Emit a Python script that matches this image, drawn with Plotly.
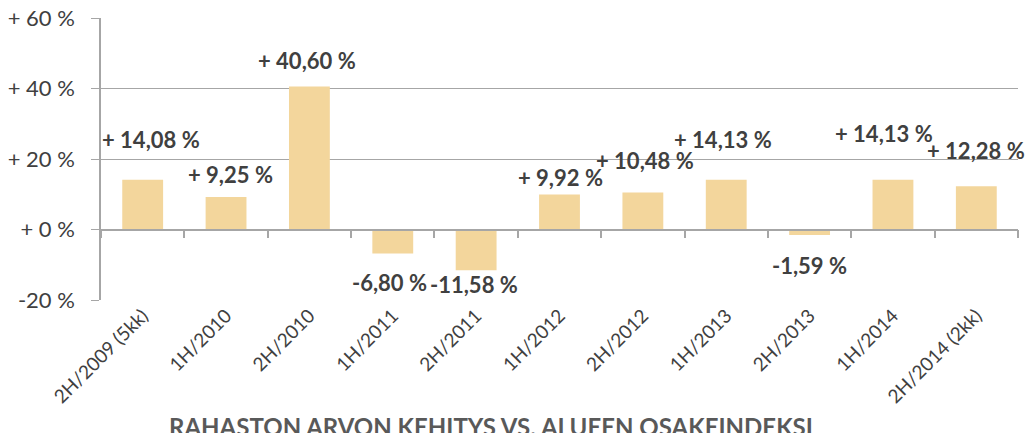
import plotly.graph_objects as go

categories = ["2H/2009 (5kk)", "1H/2010", "2H/2010", "1H/2011", "2H/2011", "1H/2012",
              "2H/2012", "1H/2013", "2H/2013", "1H/2014", "2H/2014 (2kk)"]
values = [14.08, 9.25, 40.60, -6.80, -11.58, 9.92, 10.48, 14.13, -1.59, 14.13, 12.28]
label_texts = ["+ 14,08 %", "+ 9,25 %", "+ 40,60 %", "-6,80 %", "-11,58 %", "+ 9,92 %",
               "+ 10,48 %", "+ 14,13 %", "-1,59 %", "+ 14,13 %", "+ 12,28 %"]
y_tickvals = [-20, 0, 20, 40, 60]
y_ticktext = ["-20 %", "+ 0 %", "+ 20 %", "+ 40 %", "+ 60 %"]
title_text = "RAHASTON ARVON KEHITYS VS. ALUEEN OSAKEINDEKSI"

# label pixel offsets (manual placement as in the original)
label_dx = [8, 4, -2, -3, -2, 1, 2, -3, 0, -9, 0]
label_dy = [40, 22, 26, -29, -14, 17, 32, 40, -30, 46, 36]

BAR = "#F3D69C"
GRID = "#A6A6A6"
TXT = "#404040"
FONT = "Lato"

fig = go.Figure()
fig.add_trace(go.Bar(x=categories, y=values, marker=dict(color=BAR, line=dict(width=0)),
                     hoverinfo="skip"))
# helper invisible trace for the category axis drawn at zero
fig.add_trace(go.Scatter(x=categories, y=[0] * len(categories), xaxis="x2", mode="markers",
                         marker=dict(opacity=0), hoverinfo="skip", showlegend=False))

for i, (c, v, t) in enumerate(zip(categories, values, label_texts)):
    fig.add_annotation(x=c, y=v, text=t, showarrow=False, xanchor="center", yanchor="middle",
                       xshift=label_dx[i], yshift=label_dy[i],
                       font=dict(family=FONT, size=22, color=TXT, weight="bold"))

fig.add_annotation(x=(491 - 101) / 917, y=-0.45, xref="paper", yref="paper", text=title_text,
                   showarrow=False, xanchor="center", yanchor="middle",
                   font=dict(family=FONT, size=24, color="#595959", weight="bold"))

fig.update_layout(
    width=1026, height=433,
    margin=dict(l=101, r=8, t=18, b=133),
    paper_bgcolor="white", plot_bgcolor="white",
    showlegend=False,
    bargap=0.51,
    xaxis=dict(type="category", range=[-0.5, 10.5], showgrid=False, showline=False,
               ticks="", tickangle=-45, automargin=False,
               tickfont=dict(family=FONT, size=19, color=TXT), zeroline=False),
    xaxis2=dict(type="category", overlaying="x", anchor="free", position=0.25,
                range=[-0.5, 10.5], showticklabels=False, showgrid=False, showline=True,
                linecolor=GRID, linewidth=1.5, ticks="outside", tickson="boundaries",
                ticklen=8, tickcolor=GRID, tickwidth=1.5, side="bottom"),
    yaxis=dict(range=[-20, 60], tickvals=y_tickvals, ticktext=y_ticktext, automargin=False,
               showgrid=True, gridcolor=GRID, gridwidth=1, zeroline=False,
               showline=True, linecolor=GRID, linewidth=1.5,
               ticks="outside", ticklen=8, tickcolor=GRID, ticklabelstandoff=12,
               tickfont=dict(family=FONT, size=22, color=TXT)),
)

fig.write_html("out.html", config={"displayModeBar": False},
               post_script="document.body.style.margin='0';document.body.style.overflow='hidden';")
